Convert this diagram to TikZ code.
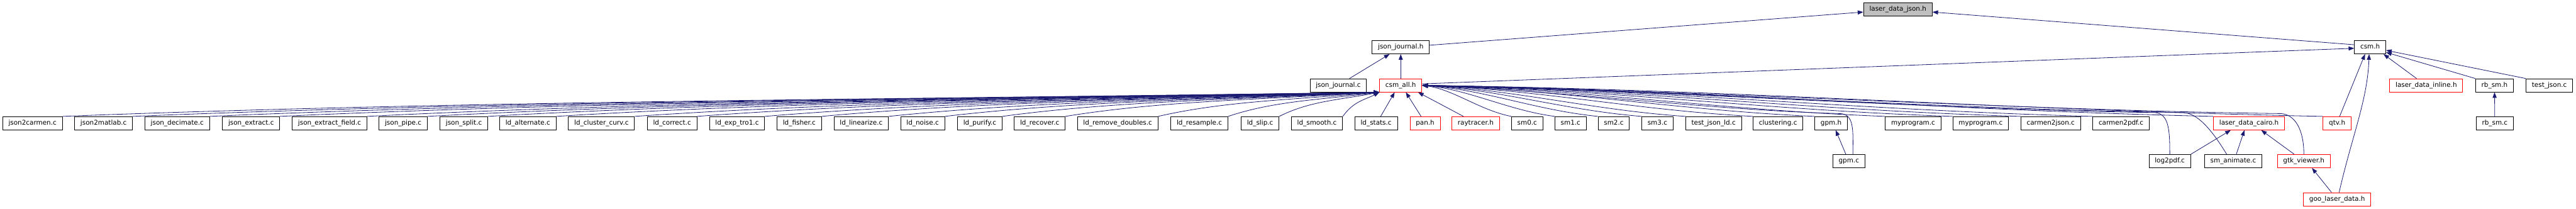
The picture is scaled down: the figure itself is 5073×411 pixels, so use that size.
\documentclass[tikz,border=0pt]{standalone}
\usepackage{fontspec}
\setmainfont{DejaVu Sans}
\usetikzlibrary{arrows.meta, calc}
\definecolor{EdgeColor}{RGB}{25,25,112}
\definecolor{RootFill}{RGB}{191,191,191}

\begin{document}
\begin{tikzpicture}[x=1pt, y=-1pt,
    hdr/.style={draw=black, fill=white, line width=1.1pt, inner xsep=11.5pt, inner ysep=0pt,
        minimum height=26pt, text height=9.6pt, text depth=2.6pt, font=\fontsize{12.9}{15}\selectfont},
    hdrred/.style={hdr, draw=red},
    hdrroot/.style={hdr, fill=RootFill},
    incl/.style={EdgeColor, line width=1pt, -{Triangle[length=11pt, width=8pt]}}]
    \useasboundingbox (0,0) rectangle (5073,411);
    \def\rowA{18.7} \def\rowB{93} \def\rowC{168} \def\rowD{242.5} \def\rowE{317} \def\rowF{392}
    % Top: the file itself
    \node[hdrroot] (ldjson) at (3737.5,\rowA) {laser\_data\_json.h};
    % Second row
    \node[hdr] (jjh) at (2758.5,\rowB) {json\_journal.h};
    \node[hdr] (csmh) at (4667.5,\rowB) {csm.h};
    % Third row
    \node[hdr] (jjc) at (2635.5,\rowC) {json\_journal.c};
    \node[hdrred] (csmall) at (2758.5,\rowC) {csm\_all.h};
    \node[hdrred] (ldinline) at (4778,\rowC) {laser\_data\_inline.h};
    \node[hdr] (rbsmh) at (4912.5,\rowC) {rb\_sm.h};
    \node[hdr] (tjson) at (5020.5,\rowC) {test\_json.c};
    % Fourth row
    \foreach \nm/\cx/\lbl in {j2c/64/json2carmen.c, j2m/204/json2matlab.c, jdec/349/json\_decimate.c,
        jext/494.5/json\_extract.c, jextf/649/json\_extract\_field.c, jpipe/794/json\_pipe.c,
        jsplit/913.5/json\_split.c, ldalt/1039.5/ld\_alternate.c, ldcc/1184.5/ld\_cluster\_curv.c,
        ldcor/1323.5/ld\_correct.c, ldexp/1451.5/ld\_exp\_tro1.c, ldfish/1574/ld\_fisher.c,
        ldlin/1696/ld\_linearize.c, ldnoise/1817/ld\_noise.c, ldpur/1929.5/ld\_purify.c,
        ldrec/2047.5/ld\_recover.c, ldrd/2201/ld\_remove\_doubles.c, ldres/2362/ld\_resample.c,
        ldslip/2481.5/ld\_slip.c, ldsmooth/2593.5/ld\_smooth.c, ldstats/2710/ld\_stats.c,
        smzero/3007.5/sm0.c, smone/3093/sm1.c, smtwo/3178/sm2.c, smthree/3264/sm3.c,
        tjld/3374.5/test\_json\_ld.c, clust/3501.5/clustering.c, gpmh/3606/gpm.h,
        myproga/3767.5/myprogram.c, myprogb/3900.5/myprogram.c, ctoj/4038.5/carmen2json.c,
        ctop/4177/carmen2pdf.c, rbsmc/4913/rb\_sm.c}
        \node[hdr] (\nm) at (\cx,\rowD) {\lbl};
    \foreach \nm/\cx/\lbl in {pan/2806.5/pan.h, ray/2906/raytracer.h, ldcairo/4429/laser\_data\_cairo.h, qtv/4602.5/qtv.h}
        \node[hdrred] (\nm) at (\cx,\rowD) {\lbl};
    % Fifth and sixth rows
    \node[hdr] (gpmc) at (3641,\rowE) {gpm.c};
    \node[hdr] (logpdf) at (4273,\rowE) {log2pdf.c};
    \node[hdr] (smanim) at (4398,\rowE) {sm\_animate.c};
    \node[hdrred] (gtkv) at (4537,\rowE) {gtk\_viewer.h};
    \node[hdrred] (goo) at (4602.5,\rowF) {goo\_laser\_data.h};
    % Includes of laser_data_json.h
    \draw[incl] ([yshift=4pt]jjh.east) -- ([yshift=-5pt]ldjson.west);
    \draw[incl] ([yshift=5pt]csmh.west) -- ([yshift=-5pt]ldjson.east);
    \draw[incl] ([xshift=22pt]jjc.north) -- ([xshift=-22pt]jjh.south);
    \draw[incl] (csmall.north) -- (jjh.south);
    \draw[incl] ([yshift=3pt]csmall.east) -- ([yshift=-2pt]csmh.west);
    % Includes of csm.h
    \draw[incl] ([xshift=-19pt]ldinline.north) -- ([xshift=-5pt]csmh.south east);
    \draw[incl] (rbsmh.north west) -- ([yshift=-10pt]csmh.east);
    \draw[incl] (tjson.north west) -- ([yshift=-6pt]csmh.east);
    \draw[incl] (rbsmc) -- (rbsmh);
    \draw[incl] ([xshift=5pt]qtv.north) -- ([xshift=-10pt]csmh.south);
    \draw[incl] ([xshift=4pt]goo.north) .. controls +(25,-110) and +(-3,90) .. ([xshift=-2pt]csmh.south);
    % Lower headers
    \draw[incl] ([xshift=-11pt]goo.north) -- ([xshift=16pt]gtkv.south);
    \draw[incl] ([xshift=-19pt]gtkv.north) -- ([xshift=24pt]ldcairo.south);
    \draw[incl] ([xshift=6pt]smanim.north) -- ([xshift=-9pt]ldcairo.south);
    \draw[incl] (logpdf.north east) -- ([xshift=-36pt]ldcairo.south);
    \draw[incl] ([xshift=-6pt]gpmc.north) -- ([xshift=9pt]gpmh.south);
    % Includes of csm_all.h, from the left
    \foreach \nm in {j2c, j2m, jdec, jext, jextf, jpipe, jsplit, ldalt, ldcc, ldcor, ldexp, ldfish,
        ldlin, ldnoise, ldpur, ldrec, ldrd, ldres, ldslip, ldsmooth}
        \draw[incl] let \p1=(\nm.north east), \p2=(csmall.south west), \n1={\x2-\x1} in
            (\p1) .. controls +(0.3*\n1,-30) and +(-0.4*\n1,15) .. (\p2);
    \draw[incl] ([xshift=9pt]ldstats.north) -- ([xshift=-12pt]csmall.south);
    \draw[incl] ([xshift=-8pt]pan.north) -- ([xshift=10pt]csmall.south);
    \draw[incl] ([xshift=-24pt]ray.north) -- ([xshift=-8pt]csmall.south east);
    % Includes of csm_all.h, from the right
    \foreach \nm in {smzero, smone, smtwo, smthree, tjld, clust, gpmh, myproga, myprogb, ctoj, ctop, ldcairo, qtv}
        \draw[incl] let \p1=(\nm.north west), \p2=(csmall.east), \n1={\x1-\x2} in
            (\p1) .. controls +(-0.35*\n1,-12) and +(0.35*\n1,8) .. (\p2);
    \foreach \nm/\dx/\ax/\px/\py in {gpmc/8/0/-25/-80, logpdf/0/0/-30/-82, smanim/-13/-30/-85/-82, gtkv/0/0/-45/-80}
        \draw[incl] let \p1=([xshift=\dx pt]\nm.north), \p2=(csmall.east), \p3=($(\p1)+(\px,\py)$), \n1={\x3-\x2} in
            (\p1) .. controls +(\ax,0.6*\py) and +(28,2) .. (\p3)
            .. controls +(-0.3*\n1,-6) and +(0.3*\n1,8) .. (\p2);
\end{tikzpicture}
\end{document}
